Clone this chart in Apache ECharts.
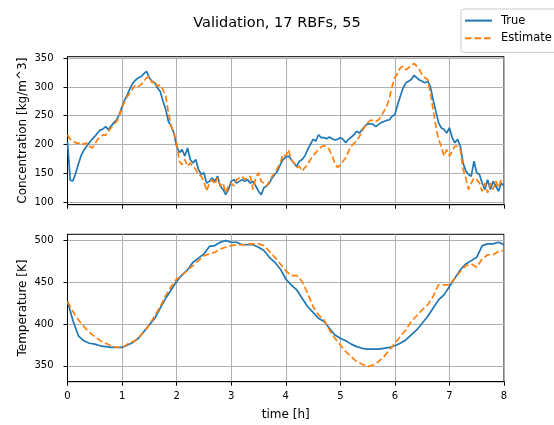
<!DOCTYPE html>
<html><head><meta charset="utf-8">
<script src="https://cdn.jsdelivr.net/npm/echarts@6/dist/echarts.min.js"></script>
<style>html,body{margin:0;padding:0;background:#fff}#c{width:554px;height:425px}</style>
</head><body><div id="c"></div>
<script>
const titleText = 'Validation, 17 RBFs, 55';
const seriesNames = ['True', 'Estimate'];
const xTicks = [0,1,2,3,4,5,6,7,8];
const concTicks = [100,150,200,250,300,350];
const tempTicks = [350,400,450,500];

// concentration, sampled every 0.05 h
const concStep = 0.05;
const concTrue = [
 205,138,137,150,166,181,190,197,203,209,214,220,225,227,231,226,232,238,243,252,
 266,278,287,298,307,312,316,318,323,327,316,310,307,298,292,275,261,240,232,220,
 197,186,191,180,194,174,168,174,157,148,151,133,136,142,136,145,128,122,113,122,
 136,139,133,136,139,136,139,133,136,128,119,113,125,128,133,142,148,154,165,174,
 178,180,174,168,162,171,174,180,191,200,209,206,217,212,212,210,213,210,208,209,
 212,209,203,209,213,217,223,220,226,232,236,236,235,231,235,238,240,242,243,249,
 252,269,284,298,307,310,313,320,316,312,310,307,310,301,278,258,238,229,226,220,
 229,212,203,209,197,168,154,148,145,171,151,148,133,122,139,122,136,128,119,133,
 128];
const concEst = [
 217,209,206,203,202,204,200,203,197,194,200,209,212,217,216,223,229,235,240,249,
 264,275,284,290,298,304,301,304,310,316,318,307,310,301,304,295,284,255,232,220,
 203,171,165,174,162,168,162,157,148,145,136,119,133,139,131,142,128,133,116,128,
 133,128,139,142,145,139,142,145,122,142,151,136,133,128,136,145,151,159,168,183,
 180,191,174,168,160,162,154,160,165,174,180,186,191,196,198,196,191,180,168,160,
 165,171,177,188,197,202,206,214,223,232,238,242,242,240,243,249,258,266,281,301,
 316,324,333,336,330,333,337,341,336,330,321,316,313,290,261,232,209,197,180,191,
 180,188,197,197,191,157,142,122,133,142,139,133,119,133,116,133,122,136,125,139,
 142];

// temperature, sampled every 0.1 h
const tempStep = 0.1;
const tempTrue = [
 427,404,386,380,377,376,374,373,372,372,
 372,375,378,383,391,399,407,419,431,441,
 451,459,465,474,479,484,493,494,498,500,
 498,498,495,495,495,492,488,480,474,466,
 454,447,441,431,421,414,407,403,395,387,
 383,380,376,373,371,370,370,370,371,372,
 374,377,381,387,393,401,409,419,429,435,
 445,455,465,472,476,480,494,496,496,498,
 495];
const tempEst = [
 427,415,405,397,390,385,380,377,374,372,
 372,376,379,383,391,399,410,421,434,445,
 454,458,465,470,476,482,484,486,490,492,
 494,495,495,496,496,496,494,487,480,472,
 464,458,458,451,437,421,411,405,393,383,
 375,367,361,355,352,349,351,355,361,369,
 377,385,393,403,410,417,423,433,447,447,
 447,455,463,470,472,468,478,483,483,487,
 488];

function pairs(vals, step){ return vals.map((v,i)=>[+(i*step).toFixed(3), v]); }

const FONT = 'DejaVu Sans';
const BLUE = '#1f77b4', ORANGE = '#ff7f0e';
const GRIDC = '#b0b0b0';

function xAx(gi, showLabels){
  return {
    type:'value', gridIndex:gi, min:0, max:8, interval:1,
    axisLine:{show:true, onZero:false, lineStyle:{color:'#000', width:1}},
    axisTick:{show:true, length:4, lineStyle:{color:'#000', width:1}},
    axisLabel:{show:showLabels, color:'#000', fontFamily:FONT, fontSize:10, margin:10},
    splitLine:{show:true, lineStyle:{color:GRIDC, width:1}},
    name: showLabels ? 'time [h]' : '', nameLocation:'middle', nameGap:27.5, nameMoveOverlap:false,
    nameTextStyle:{color:'#000', fontFamily:FONT, fontSize:12}
  };
}
function yAx(gi, min, max, ticks, name){
  return {
    type:'value', gridIndex:gi, min:min, max:max,
    axisLine:{show:true, lineStyle:{color:'#000', width:1}},
    axisTick:{show:true, length:4, customValues:ticks, lineStyle:{color:'#000', width:1}},
    axisLabel:{show:true, customValues:ticks, color:'#000', fontFamily:FONT, fontSize:10, margin:14},
    splitLine:{show:true, lineStyle:{color:GRIDC, width:1}},
    name:name, nameLocation:'middle', nameGap:39, nameMoveOverlap:false,
    nameTextStyle:{color:'#000', fontFamily:FONT, fontSize:12}
  };
}
function line(name, data, xi, yi, color, dashed){
  return {
    name:name, type:'line', xAxisIndex:xi, yAxisIndex:yi, data:data,
    showSymbol:false, symbol:'none', animation:false,
    lineStyle:{color:color, width:1.7, type: dashed ? [6.5,3] : 'solid'},
    itemStyle:{color:color}, z: dashed ? 3 : 2
  };
}

const chart = echarts.init(document.getElementById('c'), null, {renderer:'canvas'});
chart.setOption({
  animation:false,
  backgroundColor:'#fff',
  title:{text:titleText, left:'center', top:11,
    textStyle:{fontFamily:FONT, fontSize:14.5, fontWeight:'normal', color:'#000'}},
  legend:{
    data:seriesNames, orient:'vertical', left:461, top:9,
    itemWidth:27, itemHeight:12, itemGap:5.7,
    padding:[5.6, 10, 8, 3],
    itemStyle:{opacity:0},
    borderColor:'#cccccc', borderWidth:1, borderRadius:3, backgroundColor:'rgba(255,255,255,0.8)',
    textStyle:{fontFamily:FONT, fontSize:11.5, color:'#000', lineHeight:12, padding:[0,0,0,4]}
  },
  grid:[
    {left:67.5, right:50, top:56.7, height:148, show:true, borderColor:'#000', borderWidth:1, backgroundColor:'transparent'},
    {left:67.5, right:50, top:234.3, height:147.4, show:true, borderColor:'#000', borderWidth:1, backgroundColor:'transparent'}
  ],
  xAxis:[xAx(0,false), xAx(1,true)],
  yAxis:[
    yAx(0, 95.5, 352.5, concTicks, 'Concentration [kg/m^3]'),
    yAx(1, 331, 507.5, tempTicks, 'Temperature [K]')
  ],
  series:[
    line(seriesNames[0], pairs(concTrue, concStep), 0, 0, BLUE, false),
    line(seriesNames[1], pairs(concEst, concStep), 0, 0, ORANGE, true),
    line(seriesNames[0], pairs(tempTrue, tempStep), 1, 1, BLUE, false),
    line(seriesNames[1], pairs(tempEst, tempStep), 1, 1, ORANGE, true)
  ]
});
</script></body></html>
